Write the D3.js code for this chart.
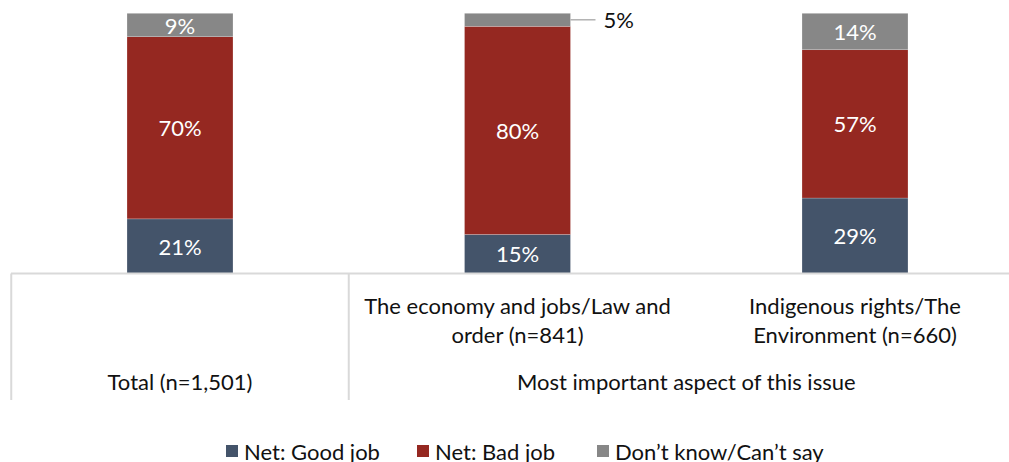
<!DOCTYPE html>
<html>
<head>
<meta charset="utf-8">
<script src="https://cdn.jsdelivr.net/npm/d3@7"></script>
<style>
  html, body { margin: 0; padding: 0; background: #fff; }
  svg { display: block; font-family: Lato, "Open Sans", sans-serif; }
</style>
</head>
<body>
<svg id="chart" width="1009" height="462"></svg>
<script>
// Categories (one bar each) and their stacked shares
const categories = ["Total (n=1,501)", "The economy and jobs/Law and order (n=841)", "Indigenous rights/The Environment (n=660)"];
const categoryLines = [[], ["The economy and jobs/Law and", "order (n=841)"], ["Indigenous rights/The", "Environment (n=660)"]];
const groupLabels = ["Total (n=1,501)", "Most important aspect of this issue"];
const seriesNames = ["Net: Good job", "Net: Bad job", "Don\u2019t know/Can\u2019t say"];
const goodJob = [21, 15, 29];
const badJob = [70, 80, 57];
const dontKnow = [9, 5, 14];
const colors = ["#44546A", "#952821", "#878787"];

const svg = d3.select("#chart");
const W = 1009, H = 462;
const FS = 22;

const plotTop = 13.3, plotBottom = 273.5;
const x = d3.scaleBand().domain(categories).range([11.25, 1023.75]).paddingInner(0.686).paddingOuter(0.343);
const y = d3.scaleLinear().domain([0, 100]).range([plotBottom, plotTop]);

const rows = categories.map((c, i) => ({ cat: c, good: goodJob[i], bad: badJob[i], dk: dontKnow[i] }));
const stack = d3.stack().keys(["good", "bad", "dk"]);
const layers = stack(rows);

// Stacked bars
const g = svg.append("g");
layers.forEach((layer, li) => {
  g.selectAll(null).data(layer).enter().append("rect")
    .attr("x", d => x(d.data.cat))
    .attr("width", x.bandwidth())
    .attr("y", d => y(d[1]))
    .attr("height", d => y(d[0]) - y(d[1]))
    .attr("fill", colors[li])
    .attr("stroke", "#ffffff")
    .attr("stroke-opacity", 0.35)
    .attr("stroke-width", 0.6);
});

// Value labels: inside for large segments, outside with a leader line for thin ones
layers.forEach((layer, li) => {
  layer.forEach(d => {
    const v = d[1] - d[0];
    const cx = x(d.data.cat) + x.bandwidth() / 2;
    const cy = (y(d[0]) + y(d[1])) / 2;
    if (v >= 8) {
      svg.append("text")
        .attr("x", cx).attr("y", cy)
        .attr("text-anchor", "middle").attr("dominant-baseline", "central")
        .attr("fill", "#ffffff").attr("font-size", FS)
        .text(v + "%");
    } else {
      const x0 = x(d.data.cat) + x.bandwidth();
      svg.append("line")
        .attr("x1", x0).attr("x2", x0 + 25)
        .attr("y1", cy).attr("y2", cy)
        .attr("stroke", "#a6a6a6").attr("stroke-width", 1.3);
      svg.append("text")
        .attr("x", x0 + 33).attr("y", cy)
        .attr("dominant-baseline", "central")
        .attr("fill", "#111").attr("font-size", FS)
        .text(v + "%");
    }
  });
});

// Multi-level category axis
const axisColor = "#d9d9d9";
const step = x.step();
const left = x.range()[0];
svg.append("line").attr("x1", 11).attr("x2", W).attr("y1", plotBottom).attr("y2", plotBottom)
  .attr("stroke", axisColor).attr("stroke-width", 2);
[left, left + step].forEach(px => {
  svg.append("line").attr("x1", px).attr("x2", px).attr("y1", plotBottom).attr("y2", 400)
    .attr("stroke", axisColor).attr("stroke-width", 2);
});

categoryLines.forEach((lines, i) => {
  const cx = x(categories[i]) + x.bandwidth() / 2;
  lines.forEach((t, j) => {
    svg.append("text").attr("x", cx).attr("y", 305 + j * 29)
      .attr("text-anchor", "middle").attr("dominant-baseline", "central")
      .attr("fill", "#111").attr("font-size", FS).text(t);
  });
});

const groupCenters = [left + step / 2, left + step * 2];
groupLabels.forEach((t, i) => {
  svg.append("text").attr("x", groupCenters[i]).attr("y", 381)
    .attr("text-anchor", "middle").attr("dominant-baseline", "central")
    .attr("fill", "#111").attr("font-size", FS).text(t);
});

// Legend
const legendX = [226, 417, 597];
seriesNames.forEach((name, i) => {
  svg.append("rect").attr("x", legendX[i]).attr("y", 445).attr("width", 12).attr("height", 12)
    .attr("fill", colors[i]);
  svg.append("text").attr("x", legendX[i] + 18).attr("y", 451)
    .attr("dominant-baseline", "central")
    .attr("fill", "#111").attr("font-size", FS).text(name);
});
</script>
</body>
</html>
